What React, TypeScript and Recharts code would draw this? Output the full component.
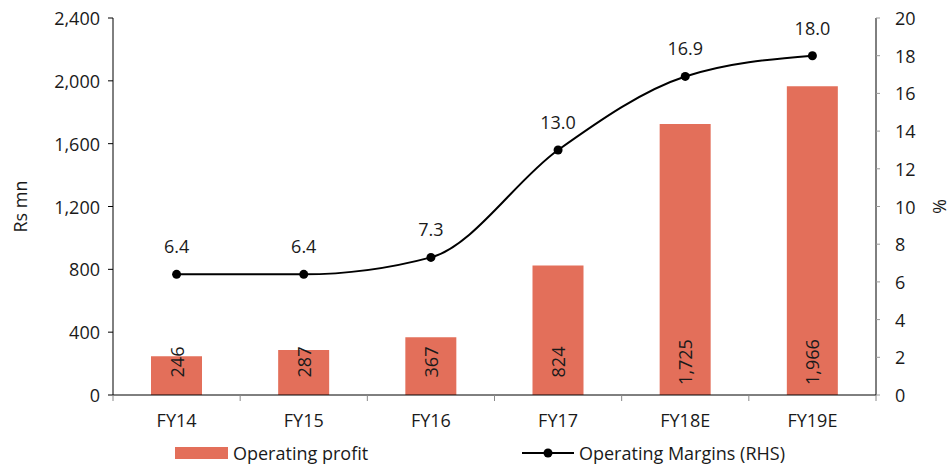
import React from "react";
import {
  ComposedChart,
  Bar,
  Line,
  XAxis,
  YAxis,
  Legend,
  LabelList,
} from "recharts";

const years = ["FY14", "FY15", "FY16", "FY17", "FY18E", "FY19E"];
const operatingProfit = [246, 287, 367, 824, 1725, 1966];
const operatingMargin = [6.4, 6.4, 7.3, 13.0, 16.9, 18.0];
const leftTicks = [0, 400, 800, 1200, 1600, 2000, 2400];
const rightTicks = [0, 2, 4, 6, 8, 10, 12, 14, 16, 18, 20];

const W = 952;
const H = 472;
const LEFT_W = 113;
const RIGHT_W = 76;
const BAND = (W - LEFT_W - RIGHT_W) / years.length;
const BAR_COLOR = "#E36F5A";
const FONT = "'Open Sans', sans-serif";

const data = years.map((year, i) => ({
  year,
  profit: operatingProfit[i],
  margin: operatingMargin[i],
}));

const fmtThousands = (v: number) => v.toLocaleString("en-US");

const XTick = (props: any) => {
  const { x, y, payload, index } = props;
  return (
    <g>
      <line x1={x - BAND / 2} x2={x - BAND / 2} y1={y} y2={y + 6} stroke="#888" />
      {index === years.length - 1 && (
        <line x1={x + BAND / 2} x2={x + BAND / 2} y1={y} y2={y + 6} stroke="#888" />
      )}
      <text x={x} y={y + 25} textAnchor="middle" dominantBaseline="central" fontSize={18} fill="#1a1a1a" fontFamily={FONT}>
        {payload.value}
      </text>
    </g>
  );
};

const LeftTick = (props: any) => {
  const { x, y, payload } = props;
  return (
    <text x={x - 6} y={y} textAnchor="end" dominantBaseline="central" fontSize={18} fill="#1a1a1a" fontFamily={FONT}>
      {fmtThousands(payload.value)}
    </text>
  );
};

const RightTick = (props: any) => {
  const { x, y, payload } = props;
  return (
    <text x={x + 13} y={y} textAnchor="start" dominantBaseline="central" fontSize={18} fill="#1a1a1a" fontFamily={FONT}>
      {payload.value}
    </text>
  );
};

const BarValue = (props: any) => {
  const { x, y, width, height, value } = props;
  const cx = x + width / 2;
  const cy = y + height - 33;
  return (
    <text
      x={cx}
      y={cy}
      transform={`rotate(-90, ${cx}, ${cy})`}
      textAnchor="middle"
      dominantBaseline="central"
      fontSize={18}
      fill="#1a1a1a"
      fontFamily={FONT}
    >
      {fmtThousands(value)}
    </text>
  );
};

const MarginValue = (props: any) => {
  const { x, y, value } = props;
  return (
    <text x={x} y={y - 28} textAnchor="middle" dominantBaseline="central" fontSize={18} fill="#1a1a1a" fontFamily={FONT}>
      {Number(value).toFixed(1)}
    </text>
  );
};

const ChartLegend = () => (
  <div style={{ position: "relative", width: W, height: 37, fontFamily: FONT, fontSize: 18, color: "#1a1a1a" }}>
    <div style={{ position: "absolute", left: 175, top: 12, width: 53, height: 12, background: BAR_COLOR }} />
    <div style={{ position: "absolute", left: 233, top: 18, transform: "translateY(-50%)", whiteSpace: "nowrap" }}>
      Operating profit
    </div>
    <svg style={{ position: "absolute", left: 522, top: 8 }} width={52} height={20}>
      <line x1={0} x2={52} y1={10} y2={10} stroke="#000" strokeWidth={2} />
      <circle cx={26} cy={10} r={4.5} fill="#000" />
    </svg>
    <div style={{ position: "absolute", left: 579, top: 18, transform: "translateY(-50%)", whiteSpace: "nowrap" }}>
      Operating Margins (RHS)
    </div>
  </div>
);

export default function App() {
  return (
    <div style={{ position: "absolute", left: 0, top: 0, width: W, height: H, background: "#fff" }}>
      <ComposedChart width={W} height={H} data={data} margin={{ top: 18, right: 0, bottom: 0, left: 0 }}>
        <XAxis
          dataKey="year"
          height={40}
          stroke="#000"
          tickLine={false}
          tickSize={0}
          tickMargin={0}
          tick={<XTick />}
          interval={0}
        />
        <YAxis
          yAxisId="left"
          width={LEFT_W}
          domain={[0, 2400]}
          ticks={leftTicks}
          stroke="#000"
          tickSize={5}
          tick={<LeftTick />}
          label={{
            value: "Rs mn",
            angle: -90,
            position: "insideLeft",
            dx: 16,
            style: { fontSize: 18, fill: "#1a1a1a", fontFamily: FONT, textAnchor: "middle" },
          }}
        />
        <YAxis
          yAxisId="right"
          orientation="right"
          width={RIGHT_W}
          domain={[0, 20]}
          ticks={rightTicks}
          stroke="#000"
          tickSize={4}
          tickLine={{ stroke: "#999" }}
          tick={<RightTick />}
          label={{
            value: "%",
            angle: 90,
            position: "insideRight",
            dx: -8,
            style: { fontSize: 18, fill: "#1a1a1a", fontFamily: FONT, textAnchor: "middle" },
          }}
        />
        <Legend verticalAlign="bottom" height={37} content={() => <ChartLegend />} />
        <Bar yAxisId="left" dataKey="profit" name="Operating profit" fill={BAR_COLOR} barSize={51} isAnimationActive={false}>
          <LabelList dataKey="profit" content={<BarValue />} />
        </Bar>
        <Line
          yAxisId="right"
          type="monotone"
          dataKey="margin"
          name="Operating Margins (RHS)"
          stroke="#000"
          strokeWidth={2}
          dot={{ r: 4.5, fill: "#000", stroke: "#000", strokeWidth: 0 }}
          activeDot={false}
          isAnimationActive={false}
        >
          <LabelList dataKey="margin" content={<MarginValue />} />
        </Line>
      </ComposedChart>
    </div>
  );
}
